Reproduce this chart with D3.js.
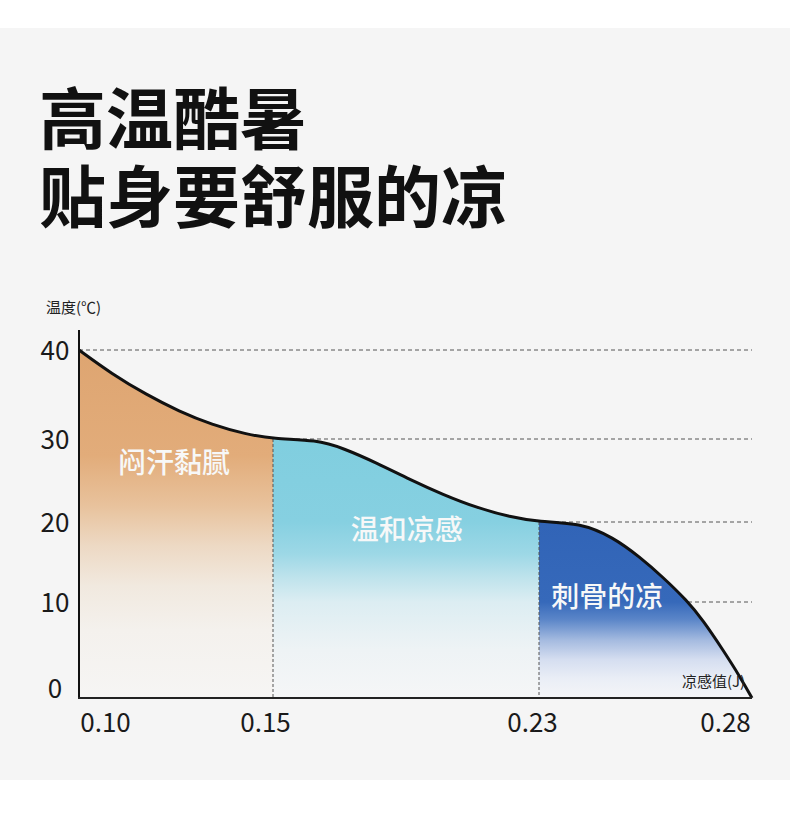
<!DOCTYPE html>
<html>
<head>
<meta charset="utf-8">
<script src="https://d3js.org/d3.v7.min.js"></script>
<style>
  body { margin: 0; background: #fff; }
  text { font-family: "Noto Sans CJK SC", "Noto Sans", sans-serif; }
</style>
</head>
<body>
<svg id="chart" width="790" height="823"></svg>
<script>
// data
var titleLines = ["高温酷暑", "贴身要舒服的凉"];
var xTicks = [0.10, 0.15, 0.23, 0.28];
var xTickLabels = ["0.10", "0.15", "0.23", "0.28"];
var yTicks = [0, 10, 20, 30, 40];
var curveX = [0.10, 0.1085, 0.1173, 0.1258, 0.1343, 0.1430, 0.15,
              0.1632, 0.1711, 0.1813, 0.1912, 0.2011, 0.2114, 0.2213, 0.23,
              0.2396, 0.2474, 0.2537, 0.2591, 0.2647, 0.2685, 0.2732, 0.2772, 0.28];
var curveY = [40, 37.3, 35.0, 33.1, 31.6, 30.55, 30,
              29.9, 28.9, 27.1, 25.1, 23.3, 21.7, 20.6, 20,
              19.9, 18.1, 15.6, 13.1, 10.2, 8.1, 5.0, 2.2, 0];
var zoneNames = ["闷汗黏腻", "温和凉感", "刺骨的凉"];
var zoneBounds = [[0.10, 0.15], [0.15, 0.23], [0.23, 0.28]];
var zoneLabelX = [0.1245, 0.1902, 0.246];
var zoneLabelY = [27.1, 19.0, 10.6];

var svg = d3.select("#chart");

// the picture's axes are drawn unevenly, so both scales are piecewise
var x = d3.scaleLinear().domain(xTicks).range([79, 273, 539, 752]);
var y = d3.scaleLinear().domain(yTicks).range([698, 602, 522, 439, 350]);

var pts = curveX.map(function(d, i) { return [d, curveY[i]]; });

svg.append("rect").attr("x", 0).attr("y", 28).attr("width", 790).attr("height", 752).attr("fill", "#f5f5f5");

// title
svg.selectAll(".title").data(titleLines).enter().append("text")
  .attr("x", 39).attr("y", function(d, i) { return 144 + i * 78; })
  .attr("font-size", 67).attr("font-weight", 700).attr("fill", "#111")
  .text(function(d) { return d; });

// gradients (stops given in temperature units so they follow the y scale)
var defs = svg.append("defs");
var grads = [
  [[40, "#dea571"], [28, "#e2ac7a"], [22, "#e8c29c"], [17, "#edd9c4"], [12, "#f1e9df"], [7, "#f4f1ed"], [0, "#f6f5f4"]],
  [[30, "#80cedf"], [20, "#86d0e1"], [16, "#9dd8e6"], [13, "#bfe3ec"], [10, "#dcedf2"], [5, "#eef3f5"], [0, "#f5f6f7"]],
  [[20, "#3164b7"], [10, "#3669ba"], [8.2, "#5a85c8"], [6, "#a5bbe0"], [4, "#d5def0"], [2, "#eaeef6"], [0, "#f4f5f7"]]
];
grads.forEach(function(stops, i) {
  var g = defs.append("linearGradient").attr("id", "g" + i)
    .attr("gradientUnits", "userSpaceOnUse")
    .attr("x1", 0).attr("x2", 0).attr("y1", y(40)).attr("y2", y(0));
  stops.forEach(function(s) {
    g.append("stop").attr("offset", (y(s[0]) - y(40)) / (y(0) - y(40))).attr("stop-color", s[1]);
  });
  defs.append("clipPath").attr("id", "c" + i).append("rect")
    .attr("x", x(zoneBounds[i][0])).attr("y", 0)
    .attr("width", x(zoneBounds[i][1]) - x(zoneBounds[i][0])).attr("height", y(0));
});

// dashed grid
svg.selectAll(".grid").data(yTicks.slice(1)).enter().append("line")
  .attr("x1", x(0.10)).attr("x2", x(0.28))
  .attr("y1", function(d) { return y(d); }).attr("y2", function(d) { return y(d); })
  .attr("stroke", "#555").attr("stroke-width", 1).attr("stroke-dasharray", "4,3");

var area = d3.area().curve(d3.curveBasis)
  .x(function(d) { return x(d[0]); }).y0(y(0)).y1(function(d) { return y(d[1]); });
var line = d3.line().curve(d3.curveBasis)
  .x(function(d) { return x(d[0]); }).y(function(d) { return y(d[1]); });

zoneBounds.forEach(function(b, i) {
  svg.append("path").datum(pts).attr("d", area)
    .attr("fill", "url(#g" + i + ")").attr("clip-path", "url(#c" + i + ")");
});

// zone dividers
svg.selectAll(".div").data([0.15, 0.23]).enter().append("line")
  .attr("x1", function(d) { return x(d); }).attr("x2", function(d) { return x(d); })
  .attr("y1", function(d) { return y(curveY[curveX.indexOf(d)]); }).attr("y2", y(0))
  .attr("stroke", "#555").attr("stroke-width", 1).attr("stroke-dasharray", "3,2");

svg.append("path").datum(pts).attr("d", line)
  .attr("fill", "none").attr("stroke", "#111").attr("stroke-width", 3);

// zone labels
svg.selectAll(".zone").data(zoneNames).enter().append("text")
  .attr("x", function(d, i) { return x(zoneLabelX[i]); })
  .attr("y", function(d, i) { return y(zoneLabelY[i]) + 10; })
  .attr("text-anchor", "middle").attr("font-size", 28).attr("font-weight", 500)
  .attr("fill", "#f7f8f8")
  .text(function(d) { return d; });

// axes
svg.append("line").attr("x1", 79).attr("x2", 79).attr("y1", 330).attr("y2", y(0) + 1)
  .attr("stroke", "#111").attr("stroke-width", 2);
svg.append("line").attr("x1", 78).attr("x2", x(0.28)).attr("y1", y(0)).attr("y2", y(0))
  .attr("stroke", "#222").attr("stroke-width", 2);

var yAxis = svg.append("g").attr("transform", "translate(79,0)")
  .call(d3.axisLeft(y).tickValues(yTicks).tickSize(0).tickPadding(24).tickFormat(d3.format("d")));
yAxis.select(".domain").remove();
yAxis.selectAll("text").attr("text-anchor", "middle").attr("font-size", 26).attr("fill", "#1a1a1a")
  .attr("font-family", "Roboto, sans-serif")
  .attr("dy", function(d) { return d == 0 ? "-0.02em" : "0.36em"; });

var xAxis = svg.append("g").attr("transform", "translate(0," + y(0) + ")")
  .call(d3.axisBottom(x).tickValues(xTicks).tickSize(0).tickPadding(16)
    .tickFormat(function(d, i) { return xTickLabels[i]; }));
xAxis.select(".domain").remove();
xAxis.selectAll("text").attr("font-size", 26).attr("fill", "#1a1a1a")
  .attr("font-family", "Roboto, sans-serif")
  .attr("dx", function(d, i) { return [26, -8, -7, -27][i]; });

svg.append("text").attr("x", 46).attr("y", 313).attr("font-size", 15).attr("fill", "#222").text("温度(℃)");
svg.append("text").attr("x", 682).attr("y", 687).attr("font-size", 15).attr("fill", "#222").text("凉感值(J)");
</script>
</body>
</html>
